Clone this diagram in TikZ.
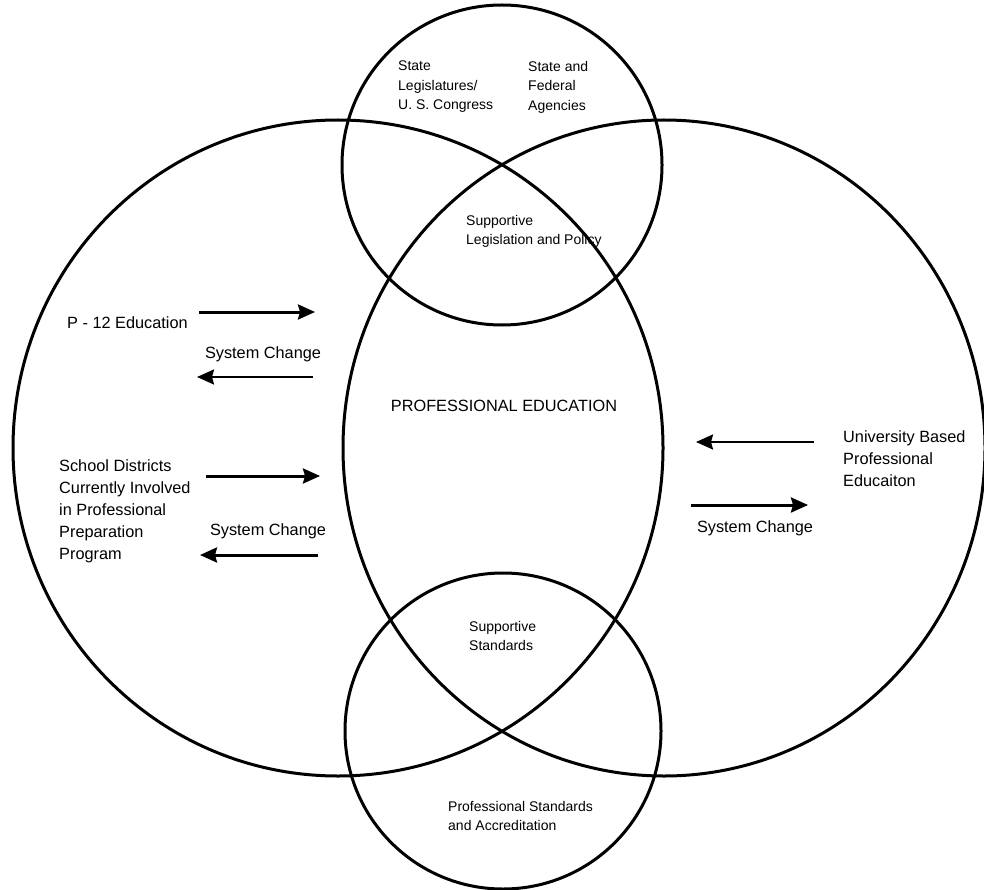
\documentclass[tikz,border=0pt]{standalone}
\usepackage{fontspec}
\setmainfont{Liberation Sans}
\usetikzlibrary{arrows.meta}

\begin{document}
\begin{tikzpicture}[x=1pt,y=-1pt]
\tikzstyle{ring} = [draw, line width=3pt]
\tikzstyle{txt} = [inner sep=0pt, anchor=north west, align=left,
font=\fontsize{14}{19.5}\selectfont]
\tikzstyle{txt_big} = [inner sep=0pt, font=\fontsize{16.3}{22}\selectfont]
\tikzstyle{line} = [draw, line width=3pt,
-{Stealth[length=17pt,width=15pt,inset=2pt]}]
\tikzstyle{line_thin} = [line, line width=2.2pt];
\useasboundingbox (0,0) rectangle (984,890);

% the four circles
\draw[ring] (338,448) ellipse [x radius=325pt, y radius=328pt];
\draw[ring] (664,448) ellipse [x radius=321pt, y radius=328pt];
\draw[ring] (502,165) circle [radius=160pt];
\draw[ring] (503,731) circle [radius=158pt];

% texts
\node[txt] (congress) at (398,61) {State\\Legislatures/\\U. S. Congress};
\node[txt] (agency) at (528,61) {State and\\Federal\\Agencies};
\node[txt] (policy) at (466,215) {Supportive\\Legislation and Policy};
\node[txt_big] (profed) at (504,406) {PROFESSIONAL EDUCATION};
\node[txt_big, anchor=west] (p12) at (67,323) {P - 12 Education};
\node[txt_big, anchor=north west, align=left] (district) at (59,459)
{School Districts\\Currently Involved\\in Professional\\Preparation\\Program};
\node[txt_big] (change_p12) at (263,354) {System Change};
\node[txt_big] (change_dist) at (268,531) {System Change};
\node[txt_big] (change_univ) at (755,528) {System Change};
\node[txt_big, anchor=north west, align=left] (univ) at (843,430)
{University Based\\Professional\\Educaiton};
\node[txt] (standards) at (469,621) {Supportive\\Standards};
\node[txt] (accred) at (448,801) {Professional Standards\\and Accreditation};

% arrow ends
\coordinate (p12_a) at (199,312); \coordinate (p12_b) at (315,312);
\coordinate (p12_c) at (313,377); \coordinate (p12_d) at (197,377);
\coordinate (dist_a) at (206,476); \coordinate (dist_b) at (320,476);
\coordinate (dist_c) at (318,555); \coordinate (dist_d) at (200,555);
\coordinate (univ_a) at (814,442); \coordinate (univ_b) at (696,442);
\coordinate (univ_c) at (691,505); \coordinate (univ_d) at (808,505);

\tikzstyle{every path}=[line]
\path (p12_a) -- (p12_b);
\path[line_thin] (p12_c) -- (p12_d);
\path (dist_a) -- (dist_b);
\path (dist_c) -- (dist_d);
\path[line_thin] (univ_a) -- (univ_b);
\path (univ_c) -- (univ_d);
\end{tikzpicture}
\end{document}
